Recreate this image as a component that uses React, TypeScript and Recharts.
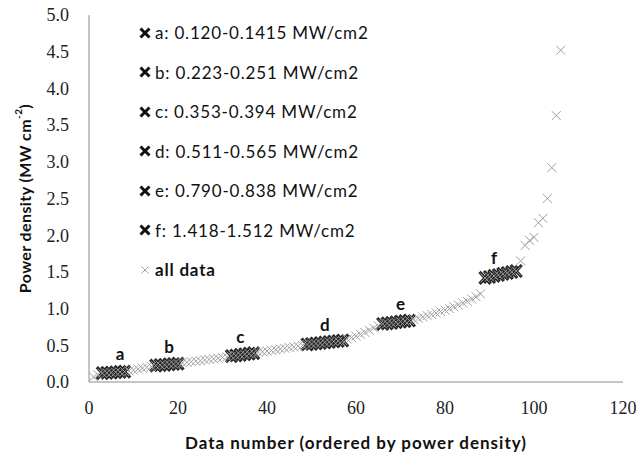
import React from "react"
import { ScatterChart, Scatter, XAxis, YAxis, Legend } from "recharts"

// every measurement, ordered by power density (data number 1..106)
const allValues = [
  0.07, 0.1,
  0.12, 0.124, 0.128, 0.133, 0.137, 0.1415,
  0.15, 0.162, 0.175, 0.188, 0.2, 0.212,
  0.223, 0.229, 0.234, 0.24, 0.245, 0.251,
  0.26, 0.268, 0.276, 0.284, 0.292, 0.3, 0.308, 0.316, 0.324, 0.333, 0.343,
  0.353, 0.361, 0.369, 0.378, 0.386, 0.394,
  0.403, 0.412, 0.421, 0.43, 0.44, 0.45, 0.46, 0.47, 0.48, 0.49, 0.5,
  0.511, 0.518, 0.524, 0.531, 0.538, 0.545, 0.552, 0.558, 0.565,
  0.585, 0.605, 0.625, 0.65, 0.675, 0.705, 0.735, 0.765,
  0.79, 0.798, 0.806, 0.814, 0.822, 0.83, 0.838,
  0.85, 0.868, 0.886, 0.904, 0.922, 0.94, 0.96, 0.98, 1.0, 1.025, 1.05, 1.075, 1.1, 1.13, 1.16, 1.2,
  1.418, 1.431, 1.445, 1.458, 1.472, 1.485, 1.499, 1.512,
  1.65, 1.86, 1.93, 1.97, 2.17, 2.23, 2.5, 2.92, 3.63, 4.52,
]

// selected groups: values, first data number, where the letter sits
const aValues = [0.12, 0.124, 0.128, 0.133, 0.137, 0.1415]
const bValues = [0.223, 0.229, 0.234, 0.24, 0.245, 0.251]
const cValues = [0.353, 0.361, 0.369, 0.378, 0.386, 0.394]
const dValues = [0.511, 0.518, 0.524, 0.531, 0.538, 0.545, 0.552, 0.558, 0.565]
const eValues = [0.79, 0.798, 0.806, 0.814, 0.822, 0.83, 0.838]
const fValues = [1.418, 1.431, 1.445, 1.458, 1.472, 1.485, 1.499, 1.512]

const groupNames = ["a", "b", "c", "d", "e", "f"]
const groupStarts = [3, 15, 32, 49, 66, 89]
const groupLabelAt = [7, 18, 34, 53, 70, 91]
const groupRanges = [
  "0.120-0.1415",
  "0.223-0.251",
  "0.353-0.394",
  "0.511-0.565",
  "0.790-0.838",
  "1.418-1.512",
]
const groupValues = [aValues, bValues, cValues, dValues, eValues, fValues]

const xTicks = [0, 20, 40, 60, 80, 100, 120]
const yTicks = [0, 0.5, 1, 1.5, 2, 2.5, 3, 3.5, 4, 4.5, 5]

const allData = allValues.map((y, i) => ({ x: i + 1, y }))
const groups = groupNames.map((name, g) => ({
  name,
  labelAt: groupLabelAt[g],
  legend: `${name}: ${groupRanges[g]} MW/cm2`,
  data: groupValues[g].map((y, i) => ({ x: groupStarts[g] + i, y })),
}))

const W = 639
const H = 456
const margin = { top: 15, right: 16, bottom: 44, left: 29 }
const xAxisH = 30
const yAxisW = 60
const plotLeft = margin.left + yAxisW
const plotCenterX = plotLeft + (W - margin.right - plotLeft) / 2
const plotCenterY = margin.top + (H - margin.bottom - xAxisH - margin.top) / 2

const sans = "Lato, 'Open Sans', sans-serif"
const serif = "'Liberation Serif', 'DejaVu Serif', serif"

function crossPath(cx: number, cy: number, rx: number, ry: number) {
  return `M${cx - rx},${cy - ry}L${cx + rx},${cy + ry}M${cx - rx},${cy + ry}L${cx + rx},${cy - ry}`
}

const GrayCross = (props: any) => {
  const { cx, cy } = props
  if (cx == null || cy == null) return null
  return <path d={crossPath(cx, cy, 4.5, 4.5)} stroke="#a0a0a0" strokeWidth={1} fill="none" />
}

const makeBoldCross = (name: string, labelAt: number) => (props: any) => {
  const { cx, cy, payload } = props
  if (cx == null || cy == null) return null
  return (
    <g>
      <path d={crossPath(cx, cy, 5.5, 6)} stroke="#262626" strokeWidth={3.2} fill="none" />
      {payload && payload.x === labelAt && (
        <text
          x={cx}
          y={cy - 18}
          textAnchor="middle"
          dominantBaseline="central"
          fontFamily={sans}
          fontWeight={700}
          fontSize={17}
          fill="#111"
        >
          {name}
        </text>
      )}
    </g>
  )
}

const rowStyle = { height: 39.5, display: "flex", alignItems: "center" } as const

const LegendBox = () => (
  <div style={{ fontFamily: sans, fontSize: 17, letterSpacing: 0.8, color: "#111", whiteSpace: "nowrap" }}>
    {groups.map((g) => (
      <div key={g.name} style={rowStyle}>
        <svg width={14} height={14} style={{ marginRight: 3 }}>
          <path d={crossPath(7, 7, 4.5, 4.5)} stroke="#111" strokeWidth={3} fill="none" />
        </svg>
        <span>{g.legend}</span>
      </div>
    ))}
    <div style={rowStyle}>
      <svg width={14} height={14} style={{ marginRight: 3 }}>
        <path d={crossPath(7, 7, 3.5, 3.5)} stroke="#a0a0a0" strokeWidth={1} fill="none" />
      </svg>
      <span style={{ fontWeight: 700 }}>all data</span>
    </div>
  </div>
)

export default function App() {
  return (
    <div style={{ position: "absolute", left: 0, top: 0, width: W, height: H, background: "#fff" }}>
      <ScatterChart width={W} height={H} margin={margin}>
        <XAxis
          type="number"
          dataKey="x"
          domain={[0, 120]}
          ticks={xTicks}
          interval={0}
          height={xAxisH}
          tickSize={0}
          tickMargin={19}
          tickLine={false}
          axisLine={{ stroke: "#8c8c8c" }}
          tick={{ fontFamily: serif, fontSize: 18, fill: "#222" }}
          label={(p: any) => (
            <text
              x={plotCenterX}
              y={p.viewBox.y + 60}
              textAnchor="middle"
              dominantBaseline="central"
              fontFamily={sans}
              fontWeight={700}
              fontSize={17}
              letterSpacing={1}
              fill="#111"
            >
              Data number (ordered by power density)
            </text>
          )}
        />
        <YAxis
          type="number"
          dataKey="y"
          domain={[0, 5]}
          ticks={yTicks}
          interval={0}
          width={yAxisW}
          tickSize={0}
          tickMargin={20}
          tickLine={false}
          axisLine={{ stroke: "#8c8c8c" }}
          tickFormatter={(v: number) => v.toFixed(1)}
          tick={{ fontFamily: serif, fontSize: 18, fill: "#222" }}
          label={() => (
            <text
              x={24}
              y={plotCenterY}
              transform={`rotate(-90 24 ${plotCenterY})`}
              textAnchor="middle"
              dominantBaseline="central"
              fontFamily={sans}
              fontWeight={700}
              fontSize={16}
              letterSpacing={0.4}
              fill="#111"
            >
              Power density (MW cm
              <tspan dy={-6} fontSize={10}>-2</tspan>
              <tspan dy={6}>)</tspan>
            </text>
          )}
        />
        {groups.map((g) => (
          <Scatter
            key={g.name}
            name={g.legend}
            data={g.data}
            shape={makeBoldCross(g.name, g.labelAt)}
            isAnimationActive={false}
          />
        ))}
        <Scatter name="all data" data={allData} shape={GrayCross} isAnimationActive={false} />
        <Legend
          layout="vertical"
          align="center"
          verticalAlign="middle"
          content={() => <LegendBox />}
          wrapperStyle={{ left: 138, top: 13, width: 260, height: 280 }}
        />
      </ScatterChart>
    </div>
  )
}
